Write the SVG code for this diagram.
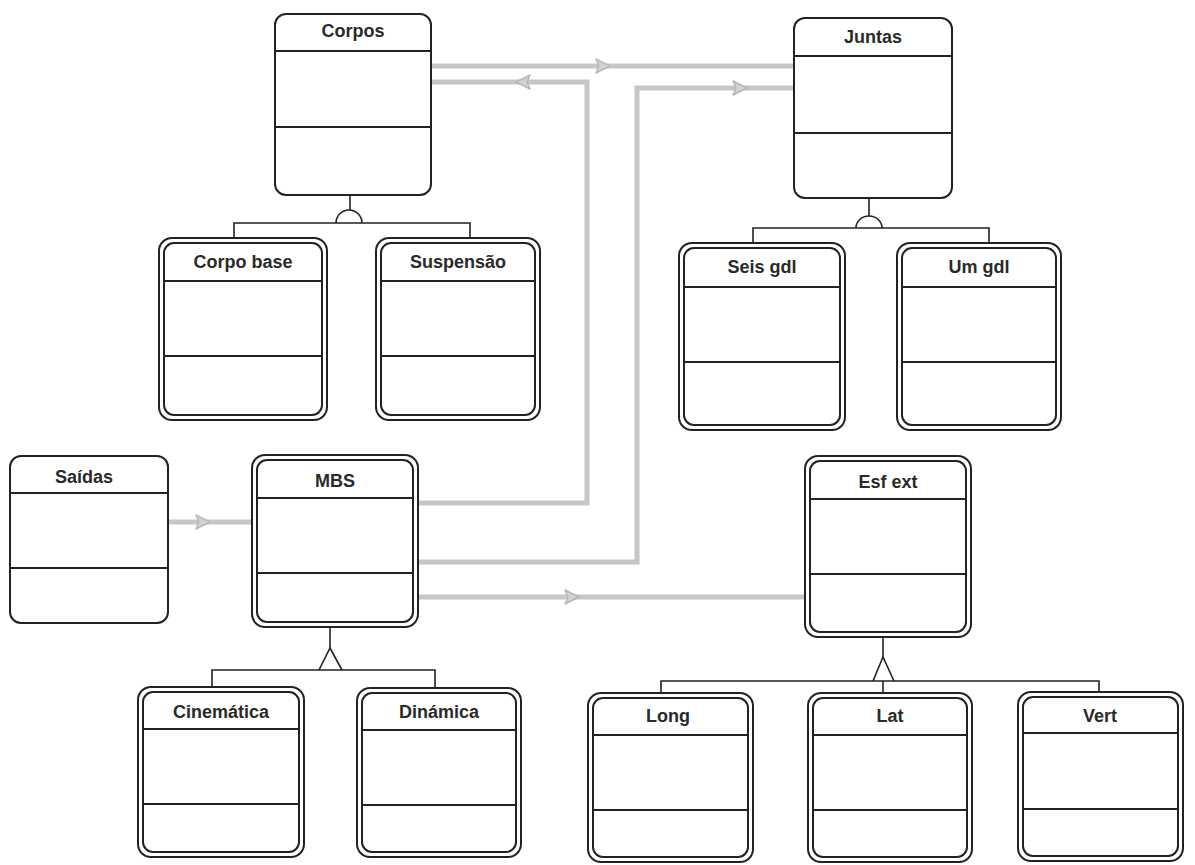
<svg xmlns="http://www.w3.org/2000/svg" xmlns:xlink="http://www.w3.org/1999/xlink" width="1195" height="865" viewBox="0 0 1195 865">
<style>
.bx{fill:#fff;stroke:#222;stroke-width:2}
.bi{fill:none;stroke:#222;stroke-width:2}
.dv{stroke:#222;stroke-width:2}
.t{font-family:"Liberation Sans",Arial,sans-serif;font-weight:bold;font-size:18px;fill:#2a2a2a;text-anchor:middle}
.ln{fill:none;stroke:#222;stroke-width:1.6}
.gc{fill:none;stroke:#c6c6c6;stroke-width:5}
.ah{fill:#d2d2d2;stroke:#b8b8b8;stroke-width:1.5;stroke-linejoin:round}
</style>
<defs>
<path id="ah" d="M-7,-7 L7,0 L-7,7 L-4,0 Z"/>
</defs>
<rect width="1195" height="865" fill="#fff"/>

<g id="connectors">
<path class="gc" d="M431,66 L794,66"/>
<path class="gc" d="M418,503 L587,503 L587,82 L431,82"/>
<path class="gc" d="M418,562 L637,562 L637,88 L794,88"/>
<path class="gc" d="M418,597 L805,597"/>
<path class="gc" d="M168,522 L252,522"/>
<use xlink:href="#ah" class="ah" transform="translate(603,66)"/>
<use xlink:href="#ah" class="ah" transform="translate(523,82) rotate(180)"/>
<use xlink:href="#ah" class="ah" transform="translate(740,88)"/>
<use xlink:href="#ah" class="ah" transform="translate(572,597)"/>
<use xlink:href="#ah" class="ah" transform="translate(203,522)"/>
<!-- Corpos hierarchy -->
<path class="ln" d="M350,195 L350,210"/>
<path class="ln" d="M336,223 A13,13 0 0 1 362,223"/>
<path class="ln" d="M234,240 L234,223 L470,223 L470,240"/>
<!-- Juntas hierarchy -->
<path class="ln" d="M869,198 L869,216"/>
<path class="ln" d="M856,228 A13,12 0 0 1 882,228"/>
<path class="ln" d="M753,245 L753,228 L989,228 L989,245"/>
<!-- MBS hierarchy -->
<path class="ln" d="M330,627 L330,648"/>
<path class="ln" d="M319,670 L330,648 L342,670"/>
<path class="ln" d="M212,688 L212,670 L435,670 L435,690"/>
<!-- Esf ext hierarchy -->
<path class="ln" d="M883,637 L883,657"/>
<path class="ln" d="M873,681 L883,657 L894,681"/>
<path class="ln" d="M661,694 L661,681 L1099,681 L1099,693"/>
<path class="ln" d="M883,681 L883,694"/>
</g>

<g id="corpos">
<rect class="bx" x="275" y="14" width="156" height="181" rx="11"/>
<line class="dv" x1="275" y1="51" x2="431" y2="51"/>
<line class="dv" x1="275" y1="127" x2="431" y2="127"/>
<text class="t" x="353" y="37">Corpos</text>
</g>

<g id="juntas">
<rect class="bx" x="794" y="18" width="158" height="180" rx="11"/>
<line class="dv" x1="794" y1="56" x2="952" y2="56"/>
<line class="dv" x1="794" y1="133" x2="952" y2="133"/>
<text class="t" x="873" y="43">Juntas</text>
</g>

<g id="saidas">
<rect class="bx" x="10" y="456" width="158" height="167" rx="11"/>
<line class="dv" x1="10" y1="493" x2="168" y2="493"/>
<line class="dv" x1="10" y1="568" x2="168" y2="568"/>
<text class="t" x="84" y="483">Saídas</text>
</g>

<g id="corpo-base">
<rect class="bx" x="159" y="238" width="168" height="182" rx="13"/>
<rect class="bi" x="164" y="243" width="158" height="172" rx="10"/>
<line class="dv" x1="164" y1="281" x2="322" y2="281"/>
<line class="dv" x1="164" y1="356" x2="322" y2="356"/>
<text class="t" x="243" y="268">Corpo base</text>
</g>

<g id="suspensao">
<rect class="bx" x="376" y="238" width="164" height="182" rx="13"/>
<rect class="bi" x="381" y="243" width="154" height="172" rx="10"/>
<line class="dv" x1="381" y1="281" x2="535" y2="281"/>
<line class="dv" x1="381" y1="356" x2="535" y2="356"/>
<text class="t" x="458" y="268">Suspensão</text>
</g>

<g id="seis-gdl">
<rect class="bx" x="679" y="243" width="166" height="187" rx="13"/>
<rect class="bi" x="684" y="248" width="156" height="177" rx="10"/>
<line class="dv" x1="684" y1="287" x2="840" y2="287"/>
<line class="dv" x1="684" y1="362" x2="840" y2="362"/>
<text class="t" x="762" y="273">Seis gdl</text>
</g>

<g id="um-gdl">
<rect class="bx" x="897" y="243" width="164" height="187" rx="13"/>
<rect class="bi" x="902" y="248" width="154" height="177" rx="10"/>
<line class="dv" x1="902" y1="287" x2="1056" y2="287"/>
<line class="dv" x1="902" y1="362" x2="1056" y2="362"/>
<text class="t" x="979" y="273">Um gdl</text>
</g>

<g id="mbs">
<rect class="bx" x="252" y="455" width="166" height="172" rx="13"/>
<rect class="bi" x="257" y="460" width="156" height="162" rx="10"/>
<line class="dv" x1="257" y1="498" x2="413" y2="498"/>
<line class="dv" x1="257" y1="573" x2="413" y2="573"/>
<text class="t" x="335" y="487">MBS</text>
</g>

<g id="esf-ext">
<rect class="bx" x="805" y="456" width="166" height="181" rx="13"/>
<rect class="bi" x="810" y="461" width="156" height="171" rx="10"/>
<line class="dv" x1="810" y1="499" x2="966" y2="499"/>
<line class="dv" x1="810" y1="574" x2="966" y2="574"/>
<text class="t" x="888" y="488">Esf ext</text>
</g>

<g id="cinematica">
<rect class="bx" x="138" y="687" width="166" height="170" rx="13"/>
<rect class="bi" x="143" y="692" width="156" height="160" rx="10"/>
<line class="dv" x1="143" y1="729" x2="299" y2="729"/>
<line class="dv" x1="143" y1="804" x2="299" y2="804"/>
<text class="t" x="221" y="718">Cinemática</text>
</g>

<g id="dinamica">
<rect class="bx" x="357" y="688" width="164" height="169" rx="13"/>
<rect class="bi" x="362" y="693" width="154" height="159" rx="10"/>
<line class="dv" x1="362" y1="730" x2="516" y2="730"/>
<line class="dv" x1="362" y1="805" x2="516" y2="805"/>
<text class="t" x="439" y="718">Dinámica</text>
</g>

<g id="long">
<rect class="bx" x="588" y="693" width="165" height="169" rx="13"/>
<rect class="bi" x="593" y="698" width="155" height="159" rx="10"/>
<line class="dv" x1="593" y1="735" x2="748" y2="735"/>
<line class="dv" x1="593" y1="810" x2="748" y2="810"/>
<text class="t" x="668" y="722">Long</text>
</g>

<g id="lat">
<rect class="bx" x="808" y="693" width="164" height="169" rx="13"/>
<rect class="bi" x="813" y="698" width="154" height="159" rx="10"/>
<line class="dv" x1="813" y1="735" x2="967" y2="735"/>
<line class="dv" x1="813" y1="810" x2="967" y2="810"/>
<text class="t" x="890" y="722">Lat</text>
</g>

<g id="vert">
<rect class="bx" x="1018" y="692" width="165" height="169" rx="13"/>
<rect class="bi" x="1023" y="697" width="155" height="159" rx="10"/>
<line class="dv" x1="1023" y1="733" x2="1178" y2="733"/>
<line class="dv" x1="1023" y1="809" x2="1178" y2="809"/>
<text class="t" x="1100" y="722">Vert</text>
</g>
</svg>
